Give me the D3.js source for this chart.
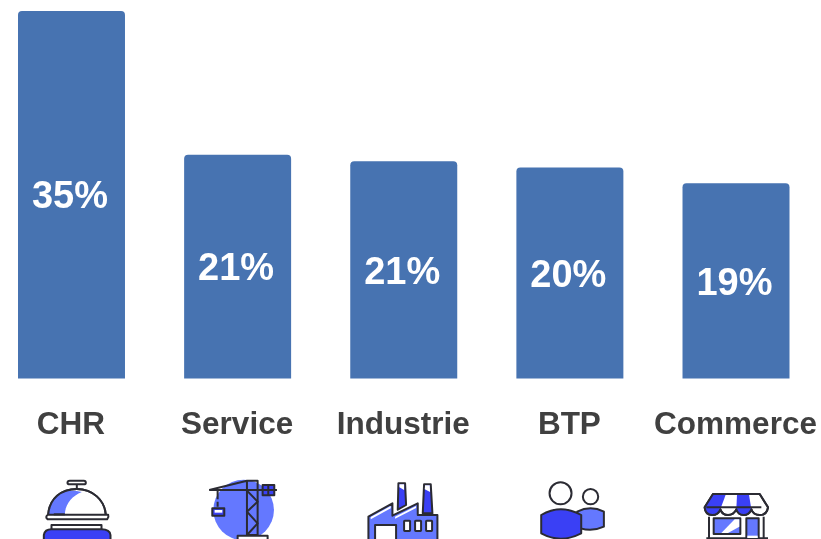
<!DOCTYPE html>
<html>
<head>
<meta charset="utf-8">
<script src="https://cdn.jsdelivr.net/npm/d3@7"></script>
<style>
  html, body { margin: 0; padding: 0; background: #fff; overflow: hidden; }
  /* the source picture is a soft, upscaled image */
  svg { display: block; font-family: "Liberation Sans", Arial, sans-serif; filter: blur(0.45px); }
</style>
</head>
<body>
<div id="visualization"></div>
<script>
// values (bar heights are not exactly the printed labels)
const categories = ['CHR', 'Service', 'Industrie', 'BTP', 'Commerce'];
const shares = [35, 21.3, 20.7, 20.1, 18.6];

const width = 821;
const height = 539;
const baseline = 378.5;
const plotTop = 11;

const DARK = '#2b2b33';
const BLUE = '#3a40f5';
const LIGHT = '#6478ff';
const STROKE = 6;

const svg = d3.select('#visualization')
  .append('svg')
  .attr('width', width)
  .attr('height', height);

const x = d3.scaleBand()
  .domain(categories)
  .range([18, 789.5])
  .paddingInner(0.356);

const y = d3.scaleLinear()
  .domain([0, 35])
  .range([baseline, plotTop]);

const data = categories.map((name, i) => ({ name, value: shares[i] }));

// bars, small rounded top corners
function barPath(d) {
  const x0 = x(d.name);
  const x1 = x0 + x.bandwidth();
  const y0 = y(d.value);
  const r = 4;
  return `M${x0},${y(0)}V${y0 + r}Q${x0},${y0} ${x0 + r},${y0}H${x1 - r}Q${x1},${y0} ${x1},${y0 + r}V${y(0)}Z`;
}

svg.selectAll('path.bar')
  .data(data)
  .join('path')
  .attr('class', 'bar')
  .attr('fill', '#4773b1')
  .attr('d', barPath);

svg.selectAll('text.value')
  .data(data)
  .join('text')
  .attr('class', 'value')
  .attr('x', d => x(d.name) + x.bandwidth() / 2 - 1.5)
  .attr('y', d => (y(d.value) + y(0)) / 2)
  .attr('dy', '0.36em')
  .attr('text-anchor', 'middle')
  .style('font-size', '38px')
  .style('font-weight', 'bold')
  .style('fill', '#fff')
  .text(d => Math.round(d.value) + '%');

// category axis
const axis = svg.append('g')
  .attr('transform', `translate(-0.5,${baseline})`)
  .call(d3.axisBottom(x).tickSize(0).tickPadding(33));
axis.select('.domain').remove();
axis.selectAll('text')
  .attr('font-family', null)
  .style('font-size', '31.5px')
  .style('font-weight', 'bold')
  .style('fill', '#404040');

// icons are drawn in 3x units, each with its own horizontal origin
const icons = {
  CHR: { origin: 155, draw: g => {
    path(g, 'M143,38Q143,32 150,32H192Q198,32 198,38Q198,43 192,43H150Q143,43 143,38Z', '#fff');
    path(g, 'M171,43V57', 'none');
    path(g, 'M85,135C88,85 125,57 171,57C218,57 255,90 258,135Z', '#fff');
    path(g, 'M85,135C88,85 125,57 171,63L186,66C155,78 135,105 135,135Z', LIGHT, 'none');
    path(g, 'M85,135C88,85 125,57 171,57C218,57 255,90 258,135', 'none');
    path(g, 'M85,134H265Q268,141 262,148H84Q74,141 85,134Z', '#fff');
    path(g, 'M102,133H135', 'none');
    path(g, 'M95,178V165H245V178', '#fff');
    path(g, 'M72,215V195Q75,178 95,178H245Q270,178 272,195V215Z', BLUE);
  } },
  Service: { origin: 650, draw: g => {
    g.append('circle').attr('cx', 668).attr('cy', 120).attr('r', 91).attr('fill', LIGHT);
    path(g, 'M565,60H768', 'none');
    path(g, 'M565,60L678,32H710V195H678V32', 'none');
    path(g, 'M678,62L710,95L678,125L710,160L678,195', 'none');
    path(g, 'M725,45H760V76H725ZM742,45V76M725,60H760', BLUE);
    path(g, 'M590,60V88M590,95V110', 'none');
    path(g, 'M574,115H610V137H574Z', BLUE);
    path(g, 'M581,120H604V128H581Z', '#fff', 'none');
    path(g, 'M650,215V197H740V215', '#fff');
  } },
  Industrie: { origin: 161, draw: g => {
    path(g, 'M55,215V140L127,100V137L203,100V135H262V215Z', LIGHT);
    path(g, 'M62,141L122,108V115L62,148ZM135,140L198,108V114L135,146Z', '#fff', 'none');
    path(g, 'M75,215V165H138V215Z', '#fff');
    [162, 195, 228].forEach(wx => {
      g.append('rect').attr('x', wx).attr('y', 152).attr('width', 18).attr('height', 31)
        .attr('rx', 2).attr('fill', '#fff').attr('stroke', DARK).attr('stroke-width', STROKE);
    });
    path(g, 'M145,40H165L168,105L143,119Z', BLUE);
    path(g, 'M148,43H162V60L148,52Z', '#fff', 'none');
    path(g, 'M222,43H242L247,130H218Z', BLUE);
    path(g, 'M225,46H239L240,66L224,58Z', '#fff', 'none');
  } },
  BTP: { origin: 658, draw: g => {
    path(g, 'M680,125Q720,105 760,125V170Q725,186 690,175Z', LIGHT);
    path(g, 'M572,135Q630,100 692,135V190Q630,222 572,190Z', BLUE);
    g.append('circle').attr('cx', 630).attr('cy', 70).attr('r', 33)
      .attr('fill', '#fff').attr('stroke', DARK).attr('stroke-width', STROKE);
    g.append('circle').attr('cx', 720).attr('cy', 80).attr('r', 23)
      .attr('fill', '#fff').attr('stroke', DARK).attr('stroke-width', STROKE);
  } },
  Commerce: { origin: 289, draw: g => {
    path(g, 'M208,140V207M372,140V207M200,205H385', 'none');
    path(g, 'M222,145H302V192H222Z', LIGHT);
    path(g, 'M285,148H299V170L265,189H245Z', '#fff', 'none');
    path(g, 'M320,207V145H357V207Z', LIGHT);
    path(g, 'M323,197H354V204H323Z', '#fff', 'none');
    path(g, 'M220,72H360L385,112Q382,135 360,135Q340,135 335,118Q328,135 312,135Q295,135 290,118Q282,135 265,135Q248,135 242,118Q235,135 218,135Q197,135 195,112Z', '#fff');
    path(g, 'M220,74H258L242,118Q235,135 218,135Q197,135 195,112Z', BLUE, 'none');
    path(g, 'M292,74H328L335,118Q328,135 312,135Q295,135 290,118Z', BLUE, 'none');
    path(g, 'M220,72H360L385,112Q382,135 360,135Q340,135 335,118Q328,135 312,135Q295,135 290,118Q282,135 265,135Q248,135 242,118Q235,135 218,135Q197,135 195,112Z', 'none');
    path(g, 'M200,112H365', 'none');
  } }
};

function path(g, d, fill, stroke) {
  g.append('path')
    .attr('d', d)
    .attr('fill', fill)
    .attr('stroke', stroke === undefined ? DARK : stroke)
    .attr('stroke-width', STROKE)
    .attr('stroke-linejoin', 'round');
}

categories.forEach(name => {
  const icon = icons[name];
  const g = svg.append('g')
    .attr('transform', `translate(${x(name) + x.bandwidth() / 2},470) scale(${1 / 3}) translate(${-icon.origin},0)`);
  icon.draw(g);
});
</script>
</body>
</html>
